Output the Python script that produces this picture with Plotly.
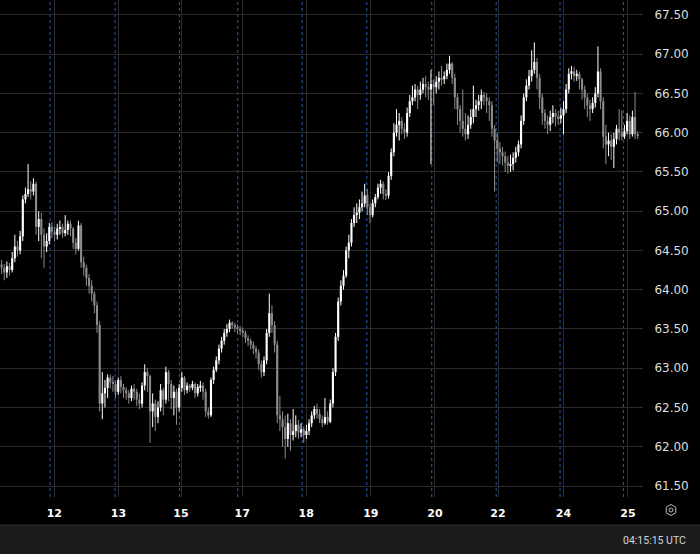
import math
import plotly.graph_objects as go

# ---------------- data ----------------
first_open = 64.32
closes = [
    64.28, 64.22, 64.30, 64.25, 64.40, 64.55, 64.50, 64.68, 65.15, 65.22,
    65.28, 65.25, 65.35, 64.80, 64.90, 64.70, 64.55, 64.62, 64.80, 64.74,
    64.70, 64.78, 64.80, 64.72, 64.76, 64.84, 64.78, 64.60, 64.52, 64.82,
    64.35, 64.28, 64.15, 64.05, 63.95, 63.80, 63.55, 62.55, 62.68, 62.75,
    62.88, 62.82, 62.80, 62.70, 62.85, 62.76, 62.72, 62.68, 62.62, 62.74,
    62.70, 62.60, 62.55, 62.78, 62.95, 62.90, 62.45, 62.55, 62.38, 62.50,
    62.72, 62.60, 62.95, 62.80, 62.62, 62.70, 62.50, 62.75, 62.88, 62.72,
    62.78, 62.75, 62.80, 62.68, 62.76, 62.78, 62.70, 62.45, 62.40, 62.85,
    62.98, 63.10, 63.25, 63.35, 63.45, 63.50, 63.58, 63.55, 63.52, 63.50,
    63.48, 63.45, 63.38, 63.35, 63.30, 63.25, 63.20, 63.05, 62.95, 63.10,
    63.45, 63.70, 63.55, 63.30, 62.40, 62.35, 62.25, 62.10, 62.30, 62.15,
    62.20, 62.28, 62.18, 62.22, 62.15, 62.20, 62.30, 62.40, 62.48, 62.42,
    62.35, 62.30, 62.38, 62.32, 62.55, 62.95, 63.40, 63.85, 64.05, 64.18,
    64.50, 64.60, 64.85, 64.95, 64.98, 65.05, 65.10, 65.20, 65.05, 64.95,
    65.10, 65.18, 65.30, 65.35, 65.22, 65.20, 65.45, 65.75, 66.00, 66.10,
    66.15, 66.05, 66.00, 66.25, 66.40, 66.45, 66.55, 66.48, 66.55, 66.62,
    66.58, 66.55, 66.62, 66.58, 66.65, 66.70, 66.68, 66.72, 66.80, 66.88,
    66.70, 66.45, 66.30, 66.15, 66.05, 65.98, 66.10, 66.20, 66.30, 66.35,
    66.40, 66.48, 66.45, 66.40, 66.35, 66.05, 65.90, 65.80, 65.75, 65.70,
    65.62, 65.58, 65.60, 65.68, 65.75, 65.85, 66.15, 66.45, 66.60, 66.72,
    66.80, 66.90, 66.70, 66.45, 66.25, 66.15, 66.10, 66.20, 66.25, 66.20,
    66.18, 66.22, 66.30, 66.55, 66.75, 66.78, 66.72, 66.75, 66.68, 66.55,
    66.45, 66.35, 66.30, 66.38, 66.50, 66.78, 66.40, 65.95, 65.85, 65.90,
    65.82, 65.92, 66.05, 66.00, 65.95, 66.02, 66.15, 65.98, 66.20, 65.98,
    65.96,
]
highs = [
    64.38, 64.33, 64.36, 64.34, 64.48, 64.70, 64.62, 64.75, 65.20, 65.30,
    65.60, 65.38, 65.42, 65.38, 65.00, 64.98, 64.78, 64.72, 64.85, 64.86,
    64.80, 64.84, 64.88, 64.84, 64.95, 64.88, 64.88, 64.80, 64.66, 64.88,
    64.85, 64.42, 64.32, 64.20, 64.12, 63.98, 63.85, 63.60, 62.95, 62.85,
    62.92, 62.92, 62.90, 62.84, 62.88, 62.90, 62.80, 62.76, 62.72, 62.78,
    62.80, 62.74, 62.68, 62.82, 63.05, 63.00, 62.92, 62.68, 62.60, 62.58,
    62.80, 62.75, 63.02, 62.98, 62.85, 62.78, 62.74, 62.80, 62.95, 62.90,
    62.82, 62.80, 62.84, 62.82, 62.80, 62.84, 62.82, 62.74, 62.50, 62.88,
    63.02, 63.15, 63.30, 63.40, 63.50, 63.56, 63.62, 63.60, 63.58, 63.56,
    63.54, 63.52, 63.48, 63.42, 63.38, 63.34, 63.28, 63.24, 63.10, 63.15,
    63.50, 63.95, 63.80, 63.60, 63.35, 62.65, 62.45, 62.40, 62.42, 62.35,
    62.48, 62.40, 62.34, 62.30, 62.26, 62.28, 62.35, 62.45, 62.52, 62.55,
    62.48, 62.40, 62.62, 62.45, 62.60, 63.00, 63.45, 63.90, 64.12, 64.25,
    64.55, 64.70, 64.90, 65.05, 65.10, 65.15, 65.25, 65.35, 65.28, 65.10,
    65.15, 65.22, 65.35, 65.40, 65.38, 65.28, 65.50, 65.80, 66.12, 66.30,
    66.25, 66.20, 66.12, 66.32, 66.48, 66.60, 66.62, 66.60, 66.65, 66.70,
    66.72, 66.65, 66.80, 66.68, 66.72, 66.78, 66.85, 66.78, 66.88, 66.98,
    66.90, 66.75, 66.50, 66.35, 66.55, 66.25, 66.22, 66.30, 66.60, 66.42,
    66.48, 66.55, 66.52, 66.50, 66.45, 66.40, 66.10, 66.00, 65.88, 65.82,
    65.76, 65.70, 65.72, 65.75, 65.82, 65.90, 66.22, 66.50, 66.68, 66.80,
    67.05, 67.15, 66.95, 66.75, 66.50, 66.30, 66.22, 66.28, 66.35, 66.30,
    66.28, 66.32, 66.40, 66.62, 66.82, 66.85, 66.84, 66.80, 66.78, 66.70,
    66.60, 66.50, 66.42, 66.45, 66.58, 67.10, 66.82, 66.45, 66.10, 66.00,
    65.98, 66.00, 66.10, 66.30, 66.28, 66.10, 66.25, 66.22, 66.28, 66.52,
    66.02,
]
lows = [
    64.20, 64.12, 64.15, 64.18, 64.22, 64.35, 64.42, 64.45, 64.62, 65.10,
    65.18, 65.15, 65.20, 64.70, 64.62, 64.40, 64.28, 64.48, 64.58, 64.66,
    64.62, 64.64, 64.70, 64.66, 64.68, 64.70, 64.68, 64.52, 64.45, 64.50,
    64.28, 64.18, 64.05, 63.95, 63.85, 63.70, 63.45, 62.45, 62.35, 62.50,
    62.62, 62.74, 62.70, 62.62, 62.66, 62.68, 62.62, 62.60, 62.55, 62.58,
    62.60, 62.52, 62.48, 62.50, 62.72, 62.70, 62.05, 62.25, 62.20, 62.30,
    62.45, 62.40, 62.55, 62.58, 62.48, 62.40, 62.28, 62.45, 62.70, 62.66,
    62.68, 62.70, 62.72, 62.62, 62.64, 62.70, 62.60, 62.38, 62.36, 62.38,
    62.80, 62.95, 63.05, 63.20, 63.30, 63.40, 63.46, 63.50, 63.46, 63.44,
    63.42, 63.40, 63.32, 63.28, 63.24, 63.18, 63.12, 62.98, 62.88, 62.90,
    63.05, 63.40, 63.45, 63.20, 62.30, 62.20, 62.00, 61.85, 62.00, 61.95,
    62.08, 62.12, 62.10, 62.12, 62.05, 62.10, 62.15, 62.25, 62.35, 62.36,
    62.30, 62.25, 62.28, 62.28, 62.30, 62.50, 62.90, 63.35, 63.80, 64.00,
    64.15, 64.40, 64.55, 64.80, 64.85, 64.90, 65.00, 65.05, 64.95, 64.85,
    64.92, 65.05, 65.15, 65.22, 65.15, 65.14, 65.16, 65.40, 65.70, 65.95,
    65.90, 65.98, 65.92, 65.95, 66.20, 66.35, 66.40, 66.30, 66.42, 66.50,
    66.45, 66.42, 65.60, 66.35, 66.50, 66.55, 66.60, 66.62, 66.68, 66.75,
    66.62, 66.30, 66.10, 66.00, 65.95, 65.90, 65.92, 66.05, 66.12, 66.20,
    66.28, 66.30, 66.35, 66.25, 66.15, 65.95, 65.25, 65.62, 65.60, 65.58,
    65.50, 65.48, 65.50, 65.52, 65.62, 65.70, 65.80, 66.10, 66.40, 66.55,
    66.65, 66.75, 66.55, 66.30, 66.10, 66.05, 65.98, 66.02, 66.12, 66.08,
    66.10, 66.12, 65.98, 66.25, 66.50, 66.68, 66.65, 66.66, 66.55, 66.42,
    66.30, 66.20, 66.15, 66.25, 66.32, 66.45, 66.30, 65.80, 65.60, 65.70,
    65.65, 65.55, 65.85, 65.90, 65.90, 65.92, 65.98, 65.92, 65.95, 65.92,
    65.92,
]
opens = [first_open] + closes[:-1]
candle_idx = list(range(len(closes)))

day_labels = ["12", "13", "15", "17", "18", "19", "20", "22", "24", "25"]
day_pos = [19.9, 44.1, 67.7, 90.8, 114.9, 139.3, 163.5, 187.3, 212.0, 236.3]
session_breaks = [18.3, 42.8, 67.1, 89.1, 113.4, 137.8, 162.3, 186.6, 210.7, 234.6]
clock_text = "04:15:15 UTC"

UP_COLOR = "#ffffff"
DOWN_COLOR = "#8c8c8c"

# ---------------- figure ----------------
W, H = 700, 554
ML, MR, MT, MB = 0, 57, 0, 57
PW, PH = W - ML - MR, H - MT - MB


def px(x):
    return (x - ML) / PW


def py(y):
    return (H - MB - y) / PH


fig = go.Figure()

for is_up, color in ((True, UP_COLOR), (False, DOWN_COLOR)):
    sel = [i for i in candle_idx if (closes[i] >= opens[i]) == is_up]
    # wicks
    wx, wy = [], []
    for i in sel:
        wx += [i, i, None]
        wy += [lows[i], highs[i], None]
    fig.add_trace(go.Scatter(x=wx, y=wy, mode="lines", line=dict(color=color, width=1),
                             hoverinfo="skip", showlegend=False))
    # bodies
    base = [min(opens[i], closes[i]) for i in sel]
    size = [max(abs(closes[i] - opens[i]), 0.015) for i in sel]
    fig.add_trace(go.Bar(x=sel, y=size, base=base, width=0.8,
                         marker=dict(color=color, line=dict(width=0)),
                         hoverinfo="skip", showlegend=False))

shapes = []
for b in session_breaks:
    shapes.append(dict(type="line", xref="x", yref="paper", x0=b, x1=b, y0=0, y1=1,
                       line=dict(color="#2a5cb0", width=1, dash="3px,3px"), layer="below"))
# bottom status bar
shapes.append(dict(type="rect", xref="paper", yref="paper", x0=px(0), x1=px(W),
                   y0=py(H), y1=py(525), fillcolor="#1c1c1c", line=dict(width=0), layer="below"))
shapes.append(dict(type="line", xref="paper", yref="paper", x0=px(0), x1=px(W),
                   y0=py(525), y1=py(525), line=dict(color="#2c2c2c", width=1)))
# settings hexagon icon
cx, cy, r = 671, 510, 5.5
pts = []
for k in range(6):
    a = math.pi / 6 + k * math.pi / 3
    pts.append((px(cx + r * math.cos(a)), py(cy + r * math.sin(a))))
path = "M " + " L ".join(f"{x:.5f},{y:.5f}" for x, y in pts) + " Z"
shapes.append(dict(type="path", xref="paper", yref="paper", path=path,
                   line=dict(color="#bdbdbd", width=1)))
shapes.append(dict(type="circle", xref="paper", yref="paper",
                   x0=px(cx - 2), x1=px(cx + 2), y0=py(cy + 2), y1=py(cy - 2),
                   line=dict(color="#bdbdbd", width=1)))

fig.update_layout(
    width=W, height=H,
    margin=dict(l=ML, r=MR, t=MT, b=MB, pad=0, autoexpand=False),
    paper_bgcolor="#000000", plot_bgcolor="#000000",
    font=dict(family="DejaVu Sans, sans-serif", color="#d9d9d9", size=12),
    barmode="overlay",
    hovermode=False,
    shapes=shapes,
    annotations=[dict(text=clock_text, xref="paper", yref="paper", x=px(688), y=py(540),
                      xanchor="right", yanchor="middle", showarrow=False,
                      font=dict(size=10.5, color="#d1d4dc", family="Roboto, sans-serif"))],
    xaxis=dict(
        range=[-0.6, 242.0], tickmode="array", tickvals=day_pos, ticktext=day_labels,
        showgrid=True, gridcolor="#2b2b2b", gridwidth=1, zeroline=False,
        showline=False, ticks="outside", ticklen=6, tickcolor="rgba(0,0,0,0)",
        tickfont=dict(size=11, color="#ffffff", family="DejaVu Sans, sans-serif", weight="bold"),
        fixedrange=True,
    ),
    yaxis=dict(
        side="right", range=[61.36, 67.69], dtick=0.5, tick0=61.5, tickformat=".2f",
        showgrid=True, gridcolor="#2b2b2b", gridwidth=1, zeroline=False,
        showline=False, ticks="outside", ticklen=8, tickcolor="rgba(0,0,0,0)",
        tickfont=dict(size=12, color="#dedede", family="DejaVu Sans, sans-serif"),
        fixedrange=True,
    ),
)

fig.write_html("out.html", config={"displayModeBar": False},
               post_script="document.body.style.margin='0';")
